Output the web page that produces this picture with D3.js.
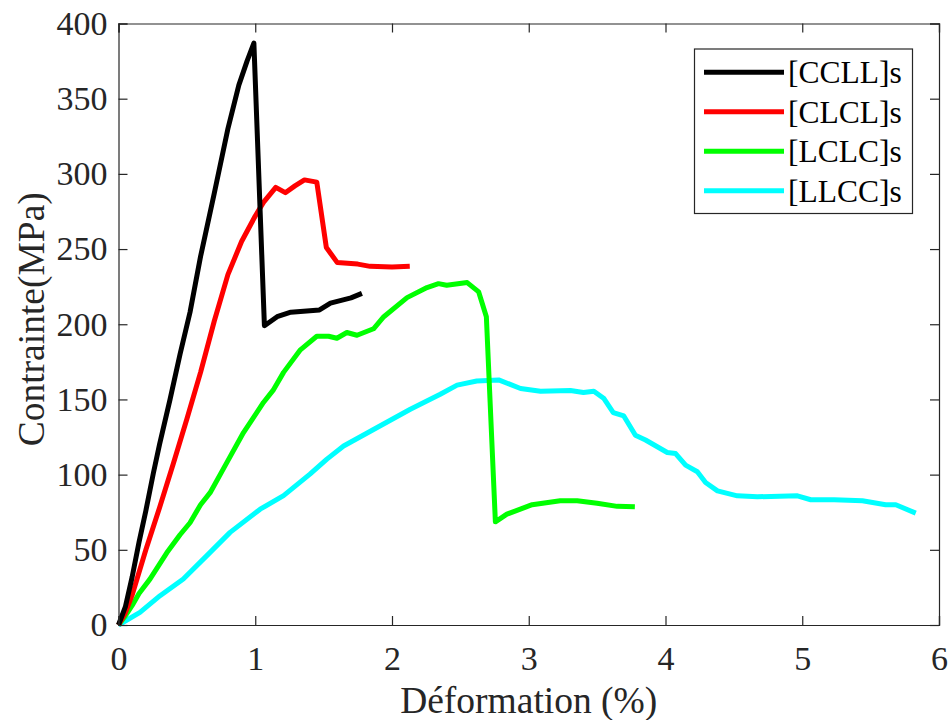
<!DOCTYPE html>
<html>
<head>
<meta charset="utf-8">
<script src="https://cdn.jsdelivr.net/npm/d3@7"></script>
<style>
  html, body { margin: 0; padding: 0; background: #fff; }
  svg { display: block; font-family: "Liberation Serif", "Times New Roman", serif; }
</style>
</head>
<body>
<svg id="chart" width="949" height="720"></svg>
<script>
// ---- data ----
const seriesNames = ["[CCLL]s", "[CLCL]s", "[LCLC]s", "[LLCC]s"];
const seriesColors = ["#000000", "#ff0000", "#00ff00", "#00ffff"];

const ccllX = [0, 0.05, 0.1, 0.15, 0.2, 0.255, 0.3, 0.377, 0.45, 0.523, 0.6, 0.7, 0.8, 0.88, 0.94, 0.99, 1.067, 1.16, 1.26, 1.47, 1.55, 1.7, 1.78];
const ccllY = [0, 12, 32, 55, 76, 101, 120, 150, 180, 208, 245, 287, 330, 359, 375, 387, 199, 205, 208, 209.5, 214, 217.5, 220.5];

const clclX = [0, 0.05, 0.1, 0.2, 0.3, 0.4, 0.5, 0.6, 0.7, 0.8, 0.9, 1.0, 1.06, 1.15, 1.22, 1.29, 1.36, 1.45, 1.52, 1.6, 1.75, 1.84, 2.0, 2.13];
const clclY = [0, 8, 20, 50, 78, 107, 137, 168, 202, 233, 255, 272, 281, 291, 287.5, 292, 296, 294.5, 251, 241, 240, 238.5, 238, 238.5];

const lclcX = [0, 0.05, 0.1, 0.15, 0.23, 0.353, 0.45, 0.523, 0.6, 0.67, 0.792, 0.914, 1.06, 1.13, 1.207, 1.33, 1.45, 1.536, 1.597, 1.67, 1.744, 1.865, 1.94, 2.11, 2.256, 2.34, 2.40, 2.55, 2.634, 2.69, 2.756, 2.84, 3.025, 3.23, 3.354, 3.5, 3.647, 3.776];
const lclcY = [0, 6, 13, 21, 30.5, 48, 60, 68, 80, 88, 108, 128, 148, 156, 168, 183, 192, 192, 190.7, 194.5, 192.7, 197, 205, 217.7, 224.4, 227, 225.9, 227.7, 221.5, 205, 68.6, 73.7, 80, 82.6, 82.6, 81, 78.9, 78.6];

const llccX = [0, 0.157, 0.304, 0.474, 0.67, 0.816, 1.036, 1.207, 1.40, 1.524, 1.646, 1.865, 2.134, 2.353, 2.476, 2.62, 2.78, 2.94, 3.086, 3.305, 3.40, 3.476, 3.55, 3.618, 3.695, 3.78, 3.854, 4.013, 4.074, 4.147, 4.233, 4.293, 4.38, 4.525, 4.672, 4.965, 5.062, 5.233, 5.44, 5.61, 5.684, 5.83];
const llccY = [0, 8.4, 19.5, 30.6, 48.3, 61.6, 77, 86, 100.3, 110.3, 119, 130, 143.5, 153.5, 159.5, 162.3, 163, 157.3, 155.5, 156, 154.6, 155.5, 150.6, 141.3, 139, 126.2, 123, 114.7, 114, 106.3, 101.9, 94.8, 89.2, 85.9, 85.3, 85.9, 83.3, 83.3, 82.6, 80, 80, 74.4];

const xTicks = [0, 1, 2, 3, 4, 5, 6];
const yTicks = [0, 50, 100, 150, 200, 250, 300, 350, 400];
const xLabel = "Déformation (%)";
const yLabel = "Contrainte(MPa)";

// ---- layout ----
const svg = d3.select("#chart");
const L = 118.5, R = 939, T = 23.5, B = 625;
const axisColor = "#262626";
const serif = '"Liberation Serif", "Times New Roman", serif';

const x = d3.scaleLinear().domain([0, 6]).range([L, R]);
const y = d3.scaleLinear().domain([0, 400]).range([B, T]);

const series = [
  { name: seriesNames[0], color: seriesColors[0], xs: ccllX, ys: ccllY },
  { name: seriesNames[1], color: seriesColors[1], xs: clclX, ys: clclY },
  { name: seriesNames[2], color: seriesColors[2], xs: lclcX, ys: lclcY },
  { name: seriesNames[3], color: seriesColors[3], xs: llccX, ys: llccY }
];

const line = d3.line().x(d => x(d[0])).y(d => y(d[1]));

// draw curves (reverse order so earlier series are on top)
series.slice().reverse().forEach(s => {
  const pts = s.xs.map((v, i) => [v, s.ys[i]]);
  svg.append("path")
    .attr("d", line(pts))
    .attr("fill", "none")
    .attr("stroke", s.color)
    .attr("stroke-width", 5)
    .attr("stroke-linejoin", "round")
    .attr("stroke-linecap", "butt");
});

// axes (ticks inward on all sides)
const tickLen = 9;
const fontTick = 34;

const xAxisB = d3.axisBottom(x).tickValues(xTicks).tickSize(-tickLen).tickPadding(21).tickFormat(d3.format("d"));
const xAxisT = d3.axisTop(x).tickValues(xTicks).tickSize(-tickLen).tickFormat("");
const yAxisL = d3.axisLeft(y).tickValues(yTicks).tickSize(-tickLen).tickPadding(11).tickFormat(d3.format("d"));
const yAxisR = d3.axisRight(y).tickValues(yTicks).tickSize(-tickLen).tickFormat("");

function styleAxis(g) {
  g.attr("font-family", serif).attr("font-size", fontTick);
  g.selectAll("path").attr("stroke", axisColor).attr("stroke-width", 1.2);
  g.selectAll("line").attr("stroke", axisColor).attr("stroke-width", 1.2);
  g.selectAll("text").attr("fill", axisColor)
    .style("font-size", fontTick + "px")
    .style("font-family", serif);
}

svg.append("g").attr("transform", `translate(0,${B})`).call(xAxisB).call(styleAxis)
  .selectAll("text").attr("dy", "0.71em");
svg.append("g").attr("transform", `translate(0,${T})`).call(xAxisT).call(styleAxis);
svg.append("g").attr("transform", `translate(${L},0)`).call(yAxisL).call(styleAxis);
svg.append("g").attr("transform", `translate(${R},0)`).call(yAxisR).call(styleAxis);

// axis labels
svg.append("text")
  .attr("x", (L + R) / 2).attr("y", 713)
  .attr("text-anchor", "middle")
  .attr("fill", axisColor)
  .style("font-family", serif)
  .style("font-size", "37.5px")
  .text(xLabel);

svg.append("text")
  .attr("transform", `translate(44,${(T + B) / 2 - 5}) rotate(-90)`)
  .attr("text-anchor", "middle")
  .attr("fill", axisColor)
  .style("font-family", serif)
  .style("font-size", "37.5px")
  .text(yLabel);

// legend
const lg = svg.append("g");
lg.append("rect")
  .attr("x", 694.5).attr("y", 49).attr("width", 218).attr("height", 164.5)
  .attr("fill", "#fff").attr("stroke", axisColor).attr("stroke-width", 1.2);
series.forEach((s, i) => {
  const yy = 72.3 + i * 39.5;
  lg.append("line")
    .attr("x1", 704).attr("x2", 784).attr("y1", yy).attr("y2", yy)
    .attr("stroke", s.color).attr("stroke-width", 5);
  lg.append("text")
    .attr("x", 788).attr("y", yy).attr("dy", "0.35em")
    .attr("fill", "#000")
    .style("font-family", serif)
    .style("font-size", "31.5px")
    .text(s.name);
});
</script>
</body>
</html>
